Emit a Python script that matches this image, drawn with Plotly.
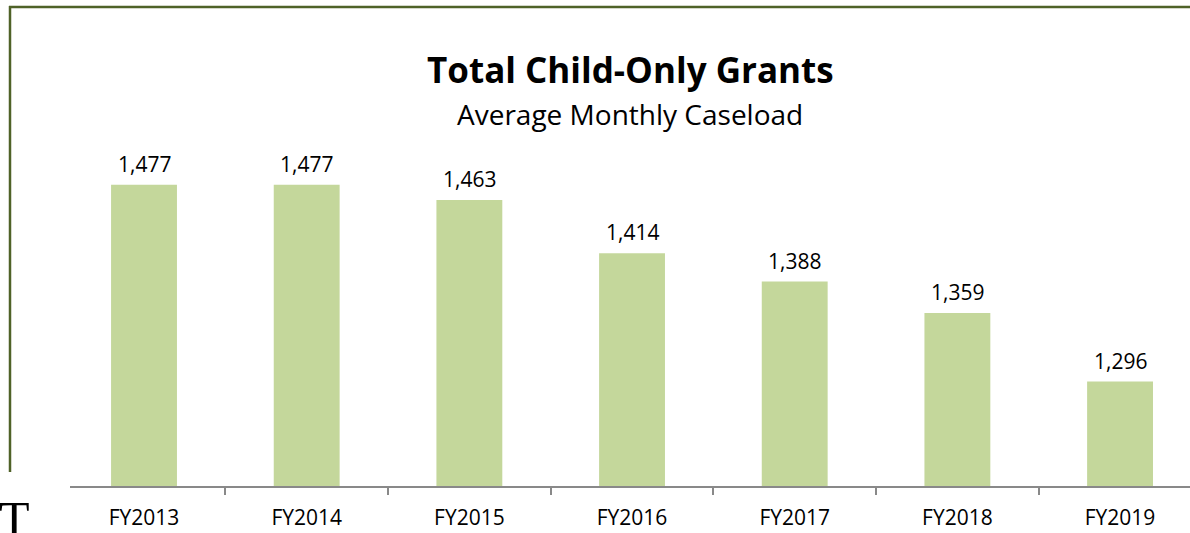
import plotly.graph_objects as go

categories = ["FY2013", "FY2014", "FY2015", "FY2016", "FY2017", "FY2018", "FY2019"]
caseload = [1477, 1477, 1463, 1414, 1388, 1359, 1296]
labels = [f"{v:,}" for v in caseload]

FONT = "Open Sans, sans-serif"
BAR = "#C4D79B"
BORDER = "#4F6228"

W, H = 1190, 533
L, R, T, B = 70, 0, 138, 47
PW, PH = W - L - R, H - T - B


def px(x):
    return (x - L) / PW


def py(y):
    return (H - B - y) / PH


fig = go.Figure(go.Bar(
    x=categories, y=caseload,
    marker=dict(color=BAR, line=dict(width=0)),
    width=0.405, hoverinfo="x+y",
))

for cat, val, lab in zip(categories, caseload, labels):
    fig.add_annotation(x=cat, y=val, text=lab, xanchor="center", yanchor="bottom",
                       yshift=5, showarrow=False,
                       font=dict(family=FONT, size=21, color="#000000"))

fig.update_layout(
    width=W, height=H,
    margin=dict(l=L, r=R, t=T, b=B),
    paper_bgcolor="white", plot_bgcolor="white",
    showlegend=False,
    font=dict(family=FONT, color="#000000"),
    xaxis=dict(
        range=[-0.455, 6.43], showline=True, linecolor="#898989", linewidth=1.5,
        ticks="outside", tickson="boundaries", ticklen=7, tickcolor="#898989", tickwidth=1.5,
        tickfont=dict(family=FONT, size=21, color="#000000"), showgrid=False,
        ticklabelstandoff=12,
    ),
    yaxis=dict(range=[1200, 1520], visible=False, showgrid=False),
)

fig.add_annotation(text="<b>Total Child-Only Grants</b>", xref="paper", yref="paper",
                   x=px(630), y=py(70), xanchor="center", yanchor="middle",
                   showarrow=False, font=dict(family=FONT, size=35, color="#000000"))
fig.add_annotation(text="Average Monthly Caseload", xref="paper", yref="paper",
                   x=px(630), y=py(114), xanchor="center", yanchor="middle",
                   showarrow=False, font=dict(family=FONT, size=28, color="#000000"))
fig.add_annotation(text="T", xref="paper", yref="paper",
                   x=px(-3), y=py(489), xanchor="left", yanchor="top",
                   showarrow=False, font=dict(family="Liberation Serif, serif", size=50, color="#000000"))

# frame lines (decoration)
fig.add_shape(type="line", xref="paper", yref="paper",
              x0=px(10), x1=px(10), y0=py(472), y1=py(6),
              line=dict(color=BORDER, width=2.5))
fig.add_shape(type="line", xref="paper", yref="paper",
              x0=px(9), x1=px(1195), y0=py(7), y1=py(7),
              line=dict(color=BORDER, width=2.5))

fig.write_html("out.html", config={"displayModeBar": False},
               post_script="document.body.style.margin='0';document.body.style.padding='0';")
